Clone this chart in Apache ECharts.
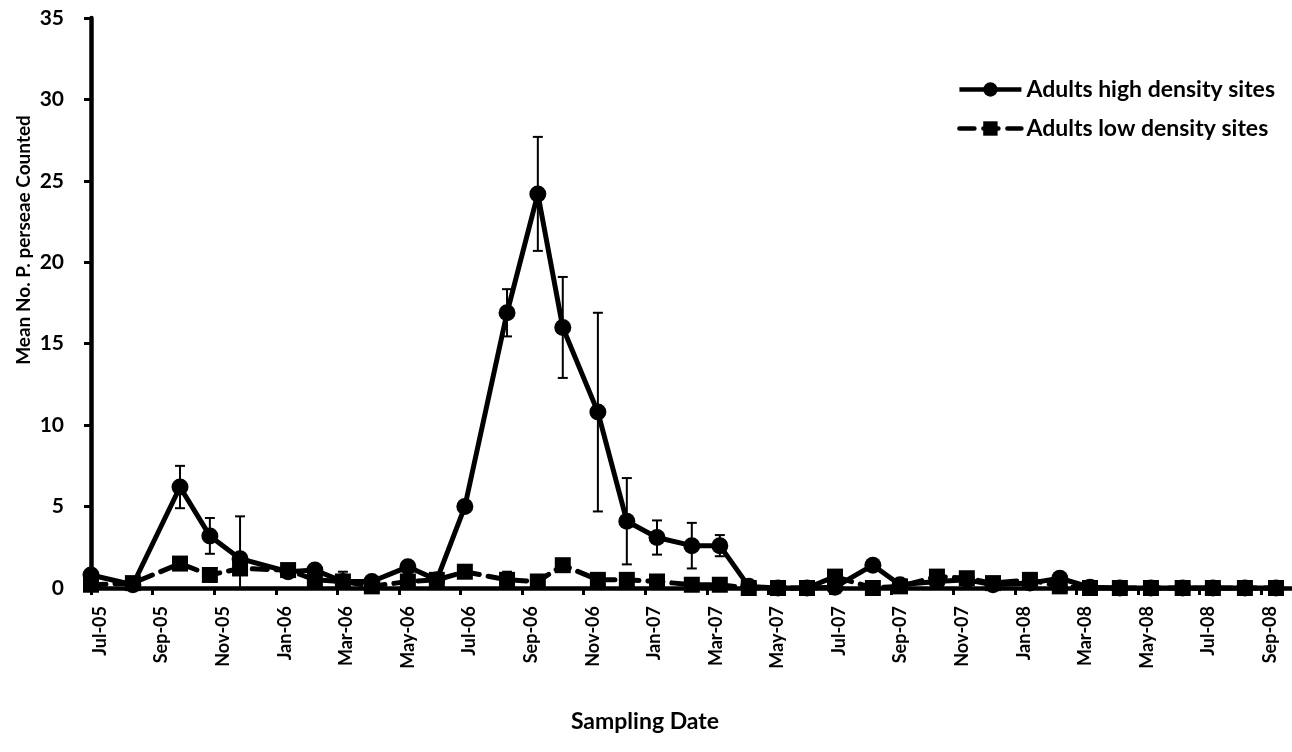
<!DOCTYPE html>
<html>
<head>
<meta charset="utf-8">
<script src="https://cdn.jsdelivr.net/npm/echarts@6/dist/echarts.min.js"></script>
<style>
  html, body { margin: 0; padding: 0; background: #fff; }
  #chart { width: 1292px; height: 752px; }
</style>
</head>
<body>
<div id="chart"></div>
<script>
// Sampling dates expressed as months elapsed since 1 Jul 2005
var sampleMonths = [0, 1.36, 2.89, 3.86, 4.84, 6.40, 7.27, 8.18, 9.12, 10.29, 11.23, 12.14,
  13.51, 14.51, 15.32, 16.46, 17.40, 18.38, 19.51, 20.42, 21.36, 22.31, 23.25, 24.16,
  25.39, 26.27, 27.47, 28.44, 29.29, 30.49, 31.46, 32.44, 33.41, 34.42, 35.45, 36.43, 37.47, 38.48];

var highDensity = [0.8, 0.2, 6.2, 3.2, 1.8, 1.0, 1.1, 0.4, 0.4, 1.3, 0.5, 5.0,
  16.9, 24.2, 16.0, 10.8, 4.1, 3.1, 2.6, 2.6, 0.1, 0, 0, 0.05,
  1.4, 0.2, 0.4, 0.5, 0.2, 0.3, 0.6, 0.05, 0, 0, 0, 0, 0, 0];

var lowDensity = [0.2, 0.3, 1.5, 0.8, 1.2, 1.1, 0.5, 0.4, 0.1, 0.4, 0.5, 1.0,
  0.5, 0.4, 1.4, 0.5, 0.5, 0.4, 0.2, 0.2, 0, 0, 0, 0.7,
  0, 0.1, 0.7, 0.6, 0.3, 0.5, 0.1, 0, 0, 0, 0, 0, 0, 0];

// standard errors (null = no visible bar)
var highErr = [null, null, 1.3, 1.1, null, null, null, null, null, null, null, null,
  1.45, 3.5, 3.1, 6.1, 2.65, 1.05, 1.4, 0.65, null, null, null, null,
  null, null, null, null, null, null, null, null, null, null, null, null, null, null];
var lowErr = [null, null, null, null, 3.2, null, null, 0.6, null, null, null, null,
  0.5, null, null, null, null, null, null, null, null, null, null, null,
  null, null, null, null, null, null, null, null, null, null, null, null, null, null];

var tickLabels = ['Jul-05', 'Sep-05', 'Nov-05', 'Jan-06', 'Mar-06', 'May-06', 'Jul-06', 'Sep-06',
  'Nov-06', 'Jan-07', 'Mar-07', 'May-07', 'Jul-07', 'Sep-07', 'Nov-07', 'Jan-08',
  'Mar-08', 'May-08', 'Jul-08', 'Sep-08'];

var seriesNames = ['Adults high density sites', 'Adults low density sites'];

var FONT = 'Lato, "Open Sans", sans-serif';

function pairs(vals) {
  return sampleMonths.map(function (m, i) { return [m, vals[i]]; });
}
function errData(vals, errs) {
  var out = [];
  for (var i = 0; i < sampleMonths.length; i++) {
    if (errs[i] != null) out.push([sampleMonths[i], vals[i], errs[i]]);
  }
  return out;
}
function renderErr(params, api) {
  var x = api.value(0), y = api.value(1), e = api.value(2);
  var lo = Math.max(0, y - e), hi = y + e;
  var pHi = api.coord([x, hi]);
  var pLo = api.coord([x, lo]);
  var cap = 5;
  var children = [
    { type: 'line', shape: { x1: pHi[0], y1: pHi[1], x2: pLo[0], y2: pLo[1] }, style: { stroke: '#000', lineWidth: 2 } },
    { type: 'line', shape: { x1: pHi[0] - cap, y1: pHi[1], x2: pHi[0] + cap, y2: pHi[1] }, style: { stroke: '#000', lineWidth: 2 } }
  ];
  if (y - e > 0) {
    children.push({ type: 'line', shape: { x1: pLo[0] - cap, y1: pLo[1], x2: pLo[0] + cap, y2: pLo[1] }, style: { stroke: '#000', lineWidth: 2 } });
  }
  return { type: 'group', children: children };
}

var chart = echarts.init(document.getElementById('chart'));
chart.setOption({
  animation: false,
  backgroundColor: '#fff',
  grid: { left: 91, right: 0, top: 18, bottom: 164 },
  xAxis: {
    type: 'value',
    min: 0,
    max: 39,
    interval: 2,
    axisLine: { lineStyle: { color: '#000', width: 4.5 } },
    axisTick: { show: true, length: 7, lineStyle: { color: '#000', width: 3 } },
    splitLine: { show: false },
    axisLabel: {
      rotate: 90,
      margin: 18,
      verticalAlign: 'top',
      color: '#000',
      fontFamily: FONT,
      fontWeight: 'bold',
      fontSize: 18,
      showMaxLabel: false,
      formatter: function (v) {
        if (Math.abs(v - Math.round(v)) > 1e-6 || Math.round(v) % 2 !== 0) return '';
        var k = Math.round(v) / 2;
        return tickLabels[k] || '';
      }
    }
  },
  yAxis: {
    type: 'value',
    min: 0,
    max: 35,
    interval: 5,
    axisLine: { show: true, lineStyle: { color: '#000', width: 4.5 } },
    axisTick: { show: true, length: 7, lineStyle: { color: '#000', width: 3 } },
    splitLine: { show: false },
    axisLabel: {
      margin: 27,
      color: '#000',
      fontFamily: FONT,
      fontWeight: 'bold',
      fontSize: 21
    }
  },
  legend: {
    orient: 'vertical',
    right: 12,
    top: 73,
    itemGap: 16,
    itemWidth: 62,
    itemHeight: 18,
    textStyle: { color: '#000', fontFamily: FONT, fontWeight: 'bold', fontSize: 23 },
    data: [
      { name: seriesNames[0], lineStyle: { width: 4.5 } },
      { name: seriesNames[1], lineStyle: { width: 4.5 } }
    ]
  },
  graphic: [
    {
      type: 'text',
      x: 24, y: 240,
      rotation: Math.PI / 2,
      style: {
        text: 'Mean No. P. perseae Counted',
        fill: '#000',
        font: 'bold 19px ' + FONT,
        align: 'center',
        verticalAlign: 'middle'
      }
    },
    {
      type: 'text',
      x: 645, y: 722,
      style: {
        text: 'Sampling Date',
        fill: '#000',
        font: 'bold 23px ' + FONT,
        align: 'center',
        verticalAlign: 'middle'
      }
    }
  ],
  series: [
    {
      name: seriesNames[0],
      type: 'line',
      data: pairs(highDensity),
      symbol: 'circle',
      symbolSize: 17,
      clip: false,
      itemStyle: { color: '#000' },
      lineStyle: { color: '#000', width: 5 },
      z: 3
    },
    {
      name: seriesNames[1],
      type: 'line',
      data: pairs(lowDensity),
      symbol: 'rect',
      symbolSize: 16,
      clip: false,
      itemStyle: { color: '#000' },
      lineStyle: { color: '#000', width: 5, type: [15, 9], cap: 'round' },
      z: 4
    },
    {
      type: 'custom',
      data: errData(highDensity, highErr),
      renderItem: renderErr,
      z: 2,
      silent: true
    },
    {
      type: 'custom',
      data: errData(lowDensity, lowErr),
      renderItem: renderErr,
      z: 2,
      silent: true
    }
  ]
});
</script>
</body>
</html>
